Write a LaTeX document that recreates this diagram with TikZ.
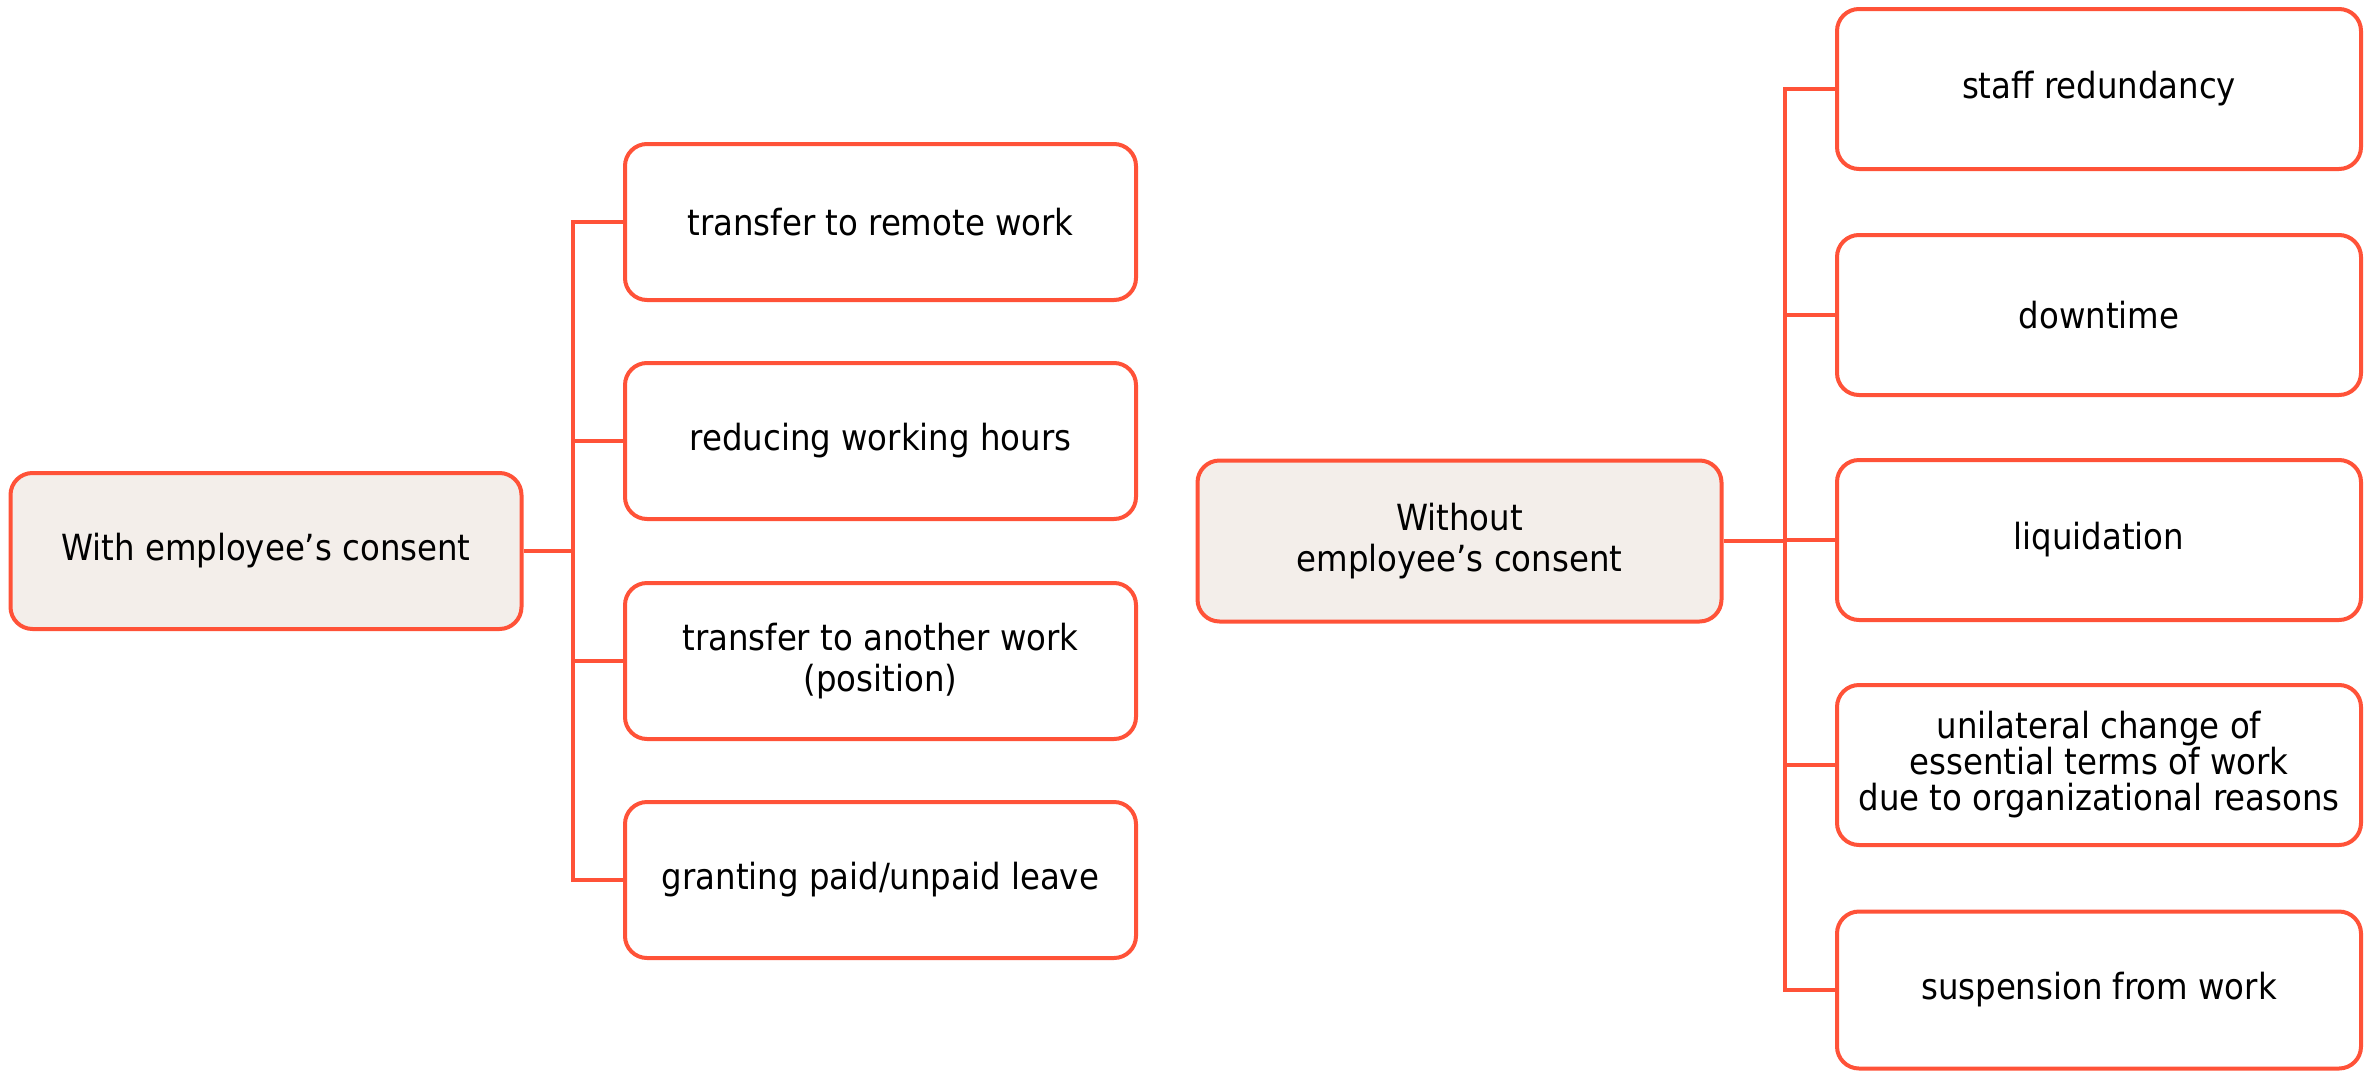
\documentclass[tikz,border=0pt]{standalone}
\usepackage{fontspec}
\setmainfont{DejaVu Sans Condensed}
\definecolor{edge}{RGB}{255,82,56}
\definecolor{grayfill}{RGB}{243,238,234}
\tikzset{
  box/.style={draw=edge, line width=2pt, rounded corners=11pt, fill=white,
    inner sep=0pt, align=center, text=black,
    font=\fontsize{18}{20.5}\selectfont},
  mainbox/.style={box, fill=grayfill},
  conn/.style={draw=edge, line width=1.7pt},
}
\begin{document}
\begin{tikzpicture}[x=0.5pt,y=-0.5pt]
\useasboundingbox (0,0) rectangle (2372,1071);
% left group
\node[mainbox, minimum width=255.5pt, minimum height=78pt] (L0) at (266,551) {With employee’s consent};
\node[box, minimum width=255.5pt, minimum height=78pt] (M1) at (880.5,222) {transfer to remote work};
\node[box, minimum width=255.5pt, minimum height=78pt] (M2) at (880.5,441) {reducing working hours};
\node[box, minimum width=255.5pt, minimum height=78pt] (M3) at (880.5,661) {transfer to another work\\(position)};
\node[box, minimum width=255.5pt, minimum height=78pt] (M4) at (880.5,880) {granting paid/unpaid leave};
\coordinate (LT) at (573,551);
\draw[conn] (L0.east) -- (LT);
\draw[conn] (M1.west) -| (LT) |- (M4.west);
\draw[conn] (M2.west) -- (M2.west -| LT);
\draw[conn] (M3.west) -- (M3.west -| LT);
% right group
\node[mainbox, minimum width=262pt, minimum height=80.5pt] (C0) at (1459.5,541) {Without\\employee’s consent};
\node[box, minimum width=262pt, minimum height=80pt] (R1) at (2099,89) {staff redundancy};
\node[box, minimum width=262pt, minimum height=80pt] (R2) at (2099,315) {downtime};
\node[box, minimum width=262pt, minimum height=80pt] (R3) at (2099,540) {liquidation};
\node[box, minimum width=262pt, minimum height=80pt, font=\fontsize{18}{18}\selectfont] (R4) at (2099,765) {unilateral change of\\essential terms of work\\due to organizational reasons};
\node[box, minimum width=262pt, minimum height=78.5pt] (R5) at (2099,990) {suspension from work};
\coordinate (RT) at (1785,541);
\draw[conn] (C0.east) -- (RT);
\draw[conn] (R1.west) -| (RT) |- (R5.west);
\draw[conn] (R2.west) -- (R2.west -| RT);
\draw[conn] (R3.west) -- (R3.west -| RT);
\draw[conn] (R4.west) -- (R4.west -| RT);
\end{tikzpicture}
\end{document}
